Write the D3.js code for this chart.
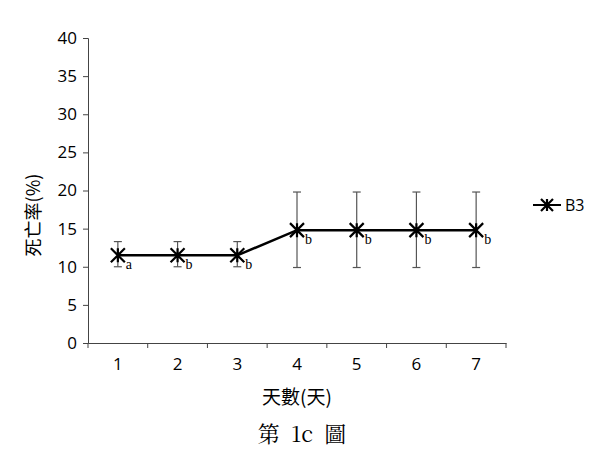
<!DOCTYPE html>
<html><head><meta charset="utf-8">
<script src="https://cdn.jsdelivr.net/npm/d3@7"></script>
<style>body{margin:0;background:#fff}</style>
</head><body>
<svg id="c" width="600" height="451"></svg>
<script>
const days = ["1","2","3","4","5","6","7"];
const mortality = [11.5, 11.5, 11.5, 14.8, 14.8, 14.8, 14.8];
const errLow = [10.0, 10.0, 10.0, 9.9, 9.9, 9.9, 9.9];
const errHigh = [13.3, 13.3, 13.3, 19.8, 19.8, 19.8, 19.8];
const letters = ["a","b","b","b","b","b","b"];
const yTicks = [0,5,10,15,20,25,30,35,40];
const seriesName = "B3";

const svg = d3.select("#c");
const sans = "'Open Sans','Noto Sans CJK TC',sans-serif";
const x = d3.scaleBand().domain(days).range([88, 506]);
const y = d3.scaleLinear().domain([0,40]).range([343, 38]);

// y axis
const ya = svg.append("g").attr("transform","translate(88,0)")
  .call(d3.axisLeft(y).tickValues(yTicks).tickSize(5).tickPadding(6));
ya.selectAll("path,line").attr("stroke","#444");
ya.selectAll("text").attr("font-family",sans).attr("font-size",17).attr("fill","#000");

// x axis
const xa = svg.append("g").attr("transform","translate(0,343)")
  .call(d3.axisBottom(x).tickSize(0).tickPadding(15));
xa.select("path").attr("stroke","#444");
xa.selectAll("text").attr("font-family",sans).attr("font-size",17).attr("fill","#000");
// tick marks between categories
const bounds = days.map(d => x(d)).concat([x.range()[1]]);
xa.selectAll("line.b").data(bounds).join("line").attr("class","b")
  .attr("x1",d=>d).attr("x2",d=>d).attr("y1",0).attr("y2",5).attr("stroke","#444");

const cx = d => x(d) + x.bandwidth()/2;

// error bars
const eb = svg.append("g").attr("stroke","#555").attr("stroke-width",1.2);
days.forEach((d,i)=>{
  const X = cx(d);
  eb.append("line").attr("x1",X).attr("x2",X).attr("y1",y(errLow[i])).attr("y2",y(errHigh[i]));
  eb.append("line").attr("x1",X-4).attr("x2",X+4).attr("y1",y(errLow[i])).attr("y2",y(errLow[i]));
  eb.append("line").attr("x1",X-4).attr("x2",X+4).attr("y1",y(errHigh[i])).attr("y2",y(errHigh[i]));
});

// line
svg.append("path").datum(days)
  .attr("d", d3.line().x(d=>cx(d)).y((d,i)=>y(mortality[i])))
  .attr("fill","none").attr("stroke","#000").attr("stroke-width",2.5);

function star(g, X, Y, r){
  g.append("path").attr("d",`M${X-r},${Y-r}L${X+r},${Y+r}M${X-r},${Y+r}L${X+r},${Y-r}M${X},${Y-r}L${X},${Y+r}`)
   .attr("stroke","#000").attr("stroke-width",2.2).attr("fill","none");
}
const mg = svg.append("g");
days.forEach((d,i)=> star(mg, cx(d), y(mortality[i]), 7));

// letters
svg.append("g").selectAll("text").data(days).join("text")
  .attr("x", d=>cx(d)+8).attr("y",(d,i)=>y(mortality[i])+14)
  .attr("font-family","'Liberation Serif','DejaVu Serif',serif").attr("font-size",14).attr("fill","#000")
  .text((d,i)=>letters[i]);

// legend
svg.append("line").attr("x1",533).attr("x2",561).attr("y1",205).attr("y2",205).attr("stroke","#000").attr("stroke-width",2);
star(svg, 547, 205, 6);
svg.append("text").attr("x",565).attr("y",211).attr("font-family",sans).attr("font-size",16).attr("fill","#000").text(seriesName);

// y title
svg.append("text").attr("transform","translate(40,215) rotate(-90)").attr("text-anchor","middle")
  .attr("font-family","'Noto Sans CJK TC',sans-serif").attr("font-size",18).attr("fill","#000").text("死亡率(%)");

// x title
svg.append("text").attr("x",297).attr("y",404).attr("text-anchor","middle")
  .attr("font-family","'Noto Sans CJK TC',sans-serif").attr("font-size",19).attr("fill","#000").text("天數(天)");

// caption
svg.append("text").attr("x",302).attr("y",442).attr("text-anchor","middle")
  .attr("font-family","'Noto Serif CJK TC','Liberation Serif','Noto Sans CJK TC',serif").attr("font-size",22).attr("fill","#000")
  .attr("xml:space","preserve").style("white-space","pre").text("第  1c  圖");
</script>
</body></html>
